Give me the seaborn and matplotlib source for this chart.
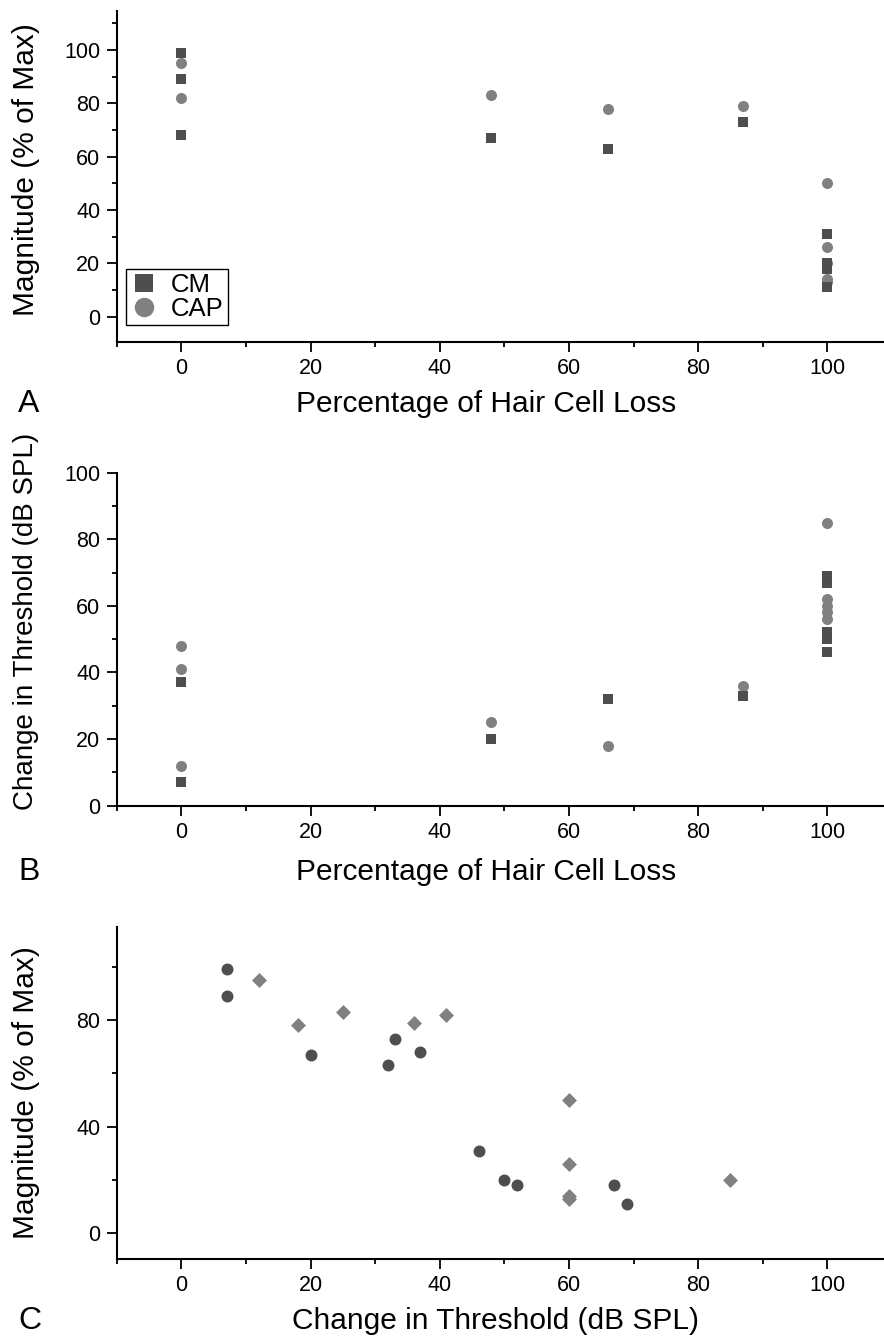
import numpy as np
import pandas as pd
import matplotlib
matplotlib.use("Agg")
import matplotlib.pyplot as plt
from matplotlib.ticker import MultipleLocator
from matplotlib.lines import Line2D
import seaborn as sns

# ---------------- data ----------------
# Panel A: magnitude vs hair-cell loss
loss_A_cm = [0, 0, 0, 48, 66, 87, 100, 100, 100, 100, 100]
mag_A_cm = [99, 89, 68, 67, 63, 73, 31, 20, 18, 18, 11]
loss_A_cap = [0, 0, 48, 66, 87, 100, 100, 100, 100, 100]
mag_A_cap = [95, 82, 83, 78, 79, 50, 26, 20, 14, 13]

# Panel B: threshold change vs hair-cell loss
loss_B_cm = [0, 0, 0, 48, 66, 87, 100, 100, 100, 100, 100]
thr_B_cm = [37, 7, 7, 20, 32, 33, 69, 67, 52, 50, 46]
loss_B_cap = [0, 0, 0, 48, 66, 87, 100, 100, 100, 100, 100]
thr_B_cap = [48, 41, 12, 25, 18, 36, 85, 62, 60, 58, 56]

# Panel C: magnitude vs threshold change
thr_C_cm = [7, 7, 20, 32, 33, 37, 46, 50, 52, 67, 69]
mag_C_cm = [99, 89, 67, 63, 73, 68, 31, 20, 18, 18, 11]
thr_C_cap = [12, 18, 25, 36, 41, 60, 60, 60, 60, 85]
mag_C_cap = [95, 78, 83, 79, 82, 50, 26, 14, 13, 20]

series_names = ["CM", "CAP"]

# ---------------- style ----------------
sns.set_style("ticks")
plt.rcParams["font.family"] = ["Liberation Sans", "DejaVu Sans"]
plt.rcParams["text.color"] = "black"
plt.rcParams["axes.labelcolor"] = "black"
plt.rcParams["xtick.color"] = "black"
plt.rcParams["ytick.color"] = "black"

CM_COL = "#4e4e4e"
CAP_COL = "#808080"

W, H = 884, 1336
fig = plt.figure(figsize=(W / 100, H / 100), dpi=100)


def axes_px(left, top, right, bottom):
    return fig.add_axes([left / W, 1 - bottom / H, (right - left) / W, (bottom - top) / H])


def style_axis(ax):
    sns.despine(ax=ax)
    for s in ["left", "bottom"]:
        ax.spines[s].set_linewidth(1.5)
        ax.spines[s].set_color("black")
    ax.tick_params(which="major", direction="out", length=7.2, width=1.3,
                   labelsize=15.5, pad=4.5, color="black", labelcolor="black")
    ax.tick_params(which="minor", direction="out", length=3.6, width=1.3, color="black")
    ax.xaxis.set_major_locator(MultipleLocator(20))
    ax.xaxis.set_minor_locator(MultipleLocator(10))


def frame(x, y, names):
    return pd.DataFrame({"x": x, "y": y, "type": names})


def two_series(ax, x_cm, y_cm, x_cap, y_cap, cm_marker, cap_marker, s_cm, s_cap):
    d_cap = frame(x_cap, y_cap, ["CAP"] * len(x_cap))
    d_cm = frame(x_cm, y_cm, ["CM"] * len(x_cm))
    sns.scatterplot(data=d_cap, x="x", y="y", ax=ax, color=CAP_COL, marker=cap_marker,
                    s=s_cap, linewidth=0, legend=False, zorder=3)
    sns.scatterplot(data=d_cm, x="x", y="y", ax=ax, color=CM_COL, marker=cm_marker,
                    s=s_cm, linewidth=0, legend=False, zorder=4)


XLAB_SIZE = 21.5
YLAB_SIZE = 21.5
YLAB_SIZE_B = 20

# ---------------- Panel A ----------------
axA = axes_px(116.7, 11.3, 892, 342)
two_series(axA, loss_A_cm, mag_A_cm, loss_A_cap, mag_A_cap, "s", "o", 52, 63)
axA.set_xlim(-10, 110)
axA.set_ylim(-9.5, 114.5)
style_axis(axA)
axA.yaxis.set_major_locator(MultipleLocator(20))
axA.yaxis.set_minor_locator(MultipleLocator(10))
axA.set_xlabel("Percentage of Hair Cell Loss", fontsize=XLAB_SIZE)
axA.set_ylabel("Magnitude (% of Max)", fontsize=YLAB_SIZE)

handles = [
    Line2D([], [], linestyle="none", marker="s", markersize=13, color=CM_COL, markeredgewidth=0),
    Line2D([], [], linestyle="none", marker="o", markersize=14, color=CAP_COL, markeredgewidth=0),
]
leg = axA.legend(handles, series_names, loc="lower left",
                 bbox_to_anchor=((126 - 116.7) / 775.3, (342 - 325) / 330.7),
                 borderaxespad=0, frameon=True, fancybox=False, framealpha=1,
                 edgecolor="black", fontsize=18.5, labelspacing=0.0, borderpad=0.15,
                 handlelength=1.1, handletextpad=0.5)
leg.get_frame().set_linewidth(1.0)

# ---------------- Panel B ----------------
axB = axes_px(116.7, 472.7, 892, 805.5)
two_series(axB, loss_B_cm, thr_B_cm, loss_B_cap, thr_B_cap, "s", "o", 52, 63)
axB.set_xlim(-10, 110)
axB.set_ylim(0, 100)
style_axis(axB)
axB.yaxis.set_major_locator(MultipleLocator(20))
axB.yaxis.set_minor_locator(MultipleLocator(10))
axB.set_xlabel("Percentage of Hair Cell Loss", fontsize=XLAB_SIZE)
axB.set_ylabel("Change in Threshold (dB SPL)", fontsize=YLAB_SIZE_B)

# ---------------- Panel C ----------------
axC = axes_px(116.7, 926.6, 892, 1258.6)
two_series(axC, thr_C_cm, mag_C_cm, thr_C_cap, mag_C_cap, "o", "D", 74, 58)
axC.set_xlim(-10, 110)
axC.set_ylim(-9.5, 115)
style_axis(axC)
axC.yaxis.set_major_locator(MultipleLocator(40))
axC.yaxis.set_minor_locator(MultipleLocator(20))
axC.set_xlabel("Change in Threshold (dB SPL)", fontsize=XLAB_SIZE)
axC.set_ylabel("Magnitude (% of Max)", fontsize=YLAB_SIZE)

# ---------------- label placement ----------------
def place_xlabel(ax, cx, base):
    ax.xaxis.label.set_verticalalignment("baseline")
    ax.xaxis.label.set_horizontalalignment("center")
    ax.xaxis.set_label_coords(cx / W, 1 - base / H, transform=fig.transFigure)


def place_ylabel(ax, cx, cy):
    ax.yaxis.label.set_verticalalignment("center")
    ax.yaxis.label.set_horizontalalignment("center")
    ax.yaxis.set_label_coords(cx / W, 1 - cy / H, transform=fig.transFigure)


place_xlabel(axA, 486, 412)
place_xlabel(axB, 486, 880)
place_xlabel(axC, 496, 1329)
place_ylabel(axA, 26, 170)
place_ylabel(axB, 26, 621)
place_ylabel(axC, 26, 1093)

for letter, base in [("A", 412), ("B", 880), ("C", 1329)]:
    fig.text(18 / W, 1 - base / H, letter, fontsize=23, ha="left", va="baseline")

fig.savefig("out.png", dpi=100)
